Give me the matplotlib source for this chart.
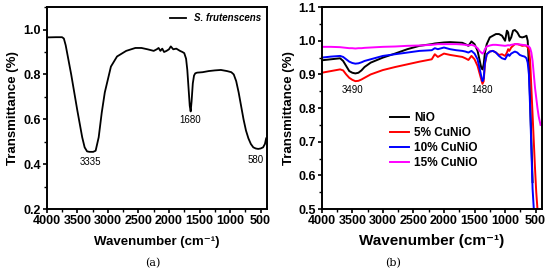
import numpy as np
import matplotlib.pyplot as plt
from matplotlib.ticker import MultipleLocator

plt.rcParams['font.family'] = ['Liberation Sans', 'DejaVu Sans']
plt.rcParams['font.weight'] = 'bold'

# (a) S. frutenscens spectrum
wn_a = [4000, 3850, 3750, 3720, 3690, 3600, 3500, 3420, 3380, 3340, 3300, 3240, 3200, 3150,
        3100, 3050, 2950, 2850, 2700, 2550, 2450, 2350, 2250, 2200, 2170, 2140, 2110, 2080,
        2040, 2000, 1970, 1930, 1880, 1820, 1780, 1750, 1720, 1700, 1680, 1660, 1645, 1630,
        1610, 1590, 1570, 1540, 1450, 1350, 1250, 1150, 1050, 980, 940, 900, 860, 820, 780,
        740, 700, 660, 620, 580, 540, 500, 460, 430, 410]
tr_a = [0.965, 0.966, 0.966, 0.96, 0.93, 0.80, 0.64, 0.52, 0.475, 0.457, 0.455, 0.455, 0.46, 0.52,
        0.63, 0.72, 0.835, 0.88, 0.905, 0.918, 0.918, 0.912, 0.905, 0.912, 0.918, 0.905, 0.915, 0.90,
        0.905, 0.912, 0.925, 0.912, 0.915, 0.905, 0.90, 0.895, 0.87, 0.82, 0.74, 0.66, 0.635, 0.68,
        0.76, 0.795, 0.805, 0.808, 0.81, 0.815, 0.818, 0.82, 0.815, 0.81, 0.80, 0.77, 0.72, 0.66, 0.60,
        0.55, 0.515, 0.49, 0.475, 0.47, 0.468, 0.47, 0.475, 0.49, 0.515]

# (b) NiO / CuNiO spectra
wn_b = [4000, 3850, 3700, 3650, 3600, 3550, 3500, 3450, 3400, 3350, 3300, 3200, 3000, 2800,
        2600, 2400, 2200, 2150, 2100, 2000, 1900, 1800, 1700, 1650, 1600, 1550, 1500, 1450,
        1420, 1390, 1370, 1350, 1330, 1300, 1250, 1200, 1150, 1100, 1050, 1000, 970, 950,
        930, 900, 870, 840, 800, 760, 720, 680, 650, 630, 610, 590, 570, 550, 530, 510, 490,
        470, 450, 420]
nio = [0.942, 0.945, 0.948, 0.94, 0.925, 0.91, 0.905, 0.903, 0.905, 0.912, 0.922, 0.935, 0.95, 0.962,
       0.975, 0.985, 0.99, 0.992, 0.993, 0.995, 0.996, 0.995, 0.994, 0.99, 0.985, 0.998, 0.99, 0.97,
       0.945, 0.92, 0.915, 0.93, 0.965, 0.99, 1.01, 1.015, 1.02, 1.02, 1.015, 1.0, 1.03, 1.025,
       1.0, 1.01, 1.03, 1.032, 1.025, 1.012, 1.01, 1.012, 1.015, 1.0, 0.93, 0.82, 0.70, 0.58, np.nan, np.nan, np.nan,
       np.nan, np.nan, np.nan]
cu5 = [0.905, 0.91, 0.915, 0.912, 0.9, 0.89, 0.884, 0.88, 0.881, 0.885, 0.89, 0.90, 0.913, 0.922,
       0.93, 0.938, 0.945, 0.96, 0.952, 0.962, 0.958, 0.955, 0.952, 0.948, 0.943, 0.955, 0.945, 0.925,
       0.905, 0.885, 0.872, 0.88, 0.93, 0.96, 0.968, 0.97, 0.965, 0.958, 0.96, 0.955, 0.965, 0.975,
       0.97, 0.98, 0.985, 0.99, 0.99, 0.988, 0.985, 0.986, 0.985, 0.98, 0.975, 0.94, 0.86, 0.78, 0.70, 0.62, 0.55,
       0.50, np.nan, np.nan]
cu10 = [0.95, 0.953, 0.955, 0.952, 0.945, 0.938, 0.934, 0.932, 0.933, 0.936, 0.94, 0.945, 0.955, 0.96,
        0.965, 0.97, 0.972, 0.978, 0.975, 0.98, 0.975, 0.972, 0.97, 0.968, 0.965, 0.97, 0.962, 0.945,
        0.92, 0.895, 0.88, 0.888, 0.935, 0.96, 0.968, 0.97, 0.965, 0.955, 0.948, 0.945, 0.955, 0.96,
        0.955, 0.962, 0.965, 0.968, 0.965, 0.958, 0.955, 0.953, 0.948, 0.935, 0.90, 0.80, 0.68, 0.56, 0.50,
        np.nan, np.nan, np.nan, np.nan, np.nan]
cu15 = [0.982, 0.982, 0.981, 0.98, 0.979, 0.978, 0.978, 0.977, 0.978, 0.978, 0.979, 0.98, 0.982, 0.983,
        0.985, 0.986, 0.988, 0.989, 0.99, 0.99, 0.99, 0.99, 0.989, 0.988, 0.986, 0.988, 0.985, 0.978,
        0.97, 0.965, 0.962, 0.966, 0.975, 0.983, 0.986, 0.988, 0.988, 0.987, 0.986, 0.985, 0.986, 0.987,
        0.986, 0.988, 0.989, 0.99, 0.99, 0.989, 0.988, 0.987, 0.986, 0.985, 0.983, 0.978, 0.965, 0.94, 0.90, 0.86,
        0.83, 0.80, 0.775, 0.75]

fig = plt.figure(figsize=(5.5, 2.74), dpi=100)


def style(ax, size):
    for s in ax.spines.values():
        s.set_linewidth(1.4)
    ax.set_xlim(4000, 400)
    ax.set_xticks([4000, 3500, 3000, 2500, 2000, 1500, 1000, 500])
    ax.xaxis.set_minor_locator(MultipleLocator(250))
    ax.tick_params(which='major', direction='out', length=3, width=1.2, labelsize=size, pad=1)
    ax.tick_params(which='minor', direction='out', length=2, width=1)
    for lab in ax.get_xticklabels() + ax.get_yticklabels():
        lab.set_fontweight('bold')


ax1 = fig.add_axes([0.085, 0.237, 0.4, 0.737])
ax1.plot(wn_a, tr_a, color='black', lw=1.3, label='S. frutenscens')
ax1.set_ylim(0.2, 1.1)
ax1.set_yticks([0.2, 0.4, 0.6, 0.8, 1.0])
ax1.yaxis.set_minor_locator(MultipleLocator(0.1))
style(ax1, 9)
ax1.set_xlabel('Wavenumber (cm⁻¹)', fontsize=9.5, fontweight='bold', labelpad=7)
ax1.set_ylabel('Transmittance (%)', fontsize=9.5, fontweight='bold', labelpad=3)
ax1.legend(loc='upper right', frameon=False, handlelength=1.6, borderaxespad=0.2,
           prop={'style': 'italic', 'weight': 'bold', 'size': 7})
ax1.text(3283, 0.409, '3335', ha='center', va='center', fontsize=7, fontweight='normal')
ax1.text(1660, 0.597, '1680', ha='center', va='center', fontsize=7, fontweight='normal')
ax1.text(584, 0.418, '580', ha='center', va='center', fontsize=7, fontweight='normal')
fig.text(0.277, 0.03, '(a)', family='DejaVu Serif', fontsize=8, fontweight='normal', ha='center')

ax2 = fig.add_axes([0.585, 0.237, 0.4, 0.737])
ax2.plot(wn_b, nio, color='black', lw=1.4, label='NiO')
ax2.plot(wn_b, cu5, color='#ff0000', lw=1.4, label='5% CuNiO')
ax2.plot(wn_b, cu10, color='#0000ff', lw=1.4, label='10% CuNiO')
ax2.plot(wn_b, cu15, color='#ff00ff', lw=1.4, label='15% CuNiO')
ax2.set_ylim(0.5, 1.1)
ax2.set_yticks([0.5, 0.6, 0.7, 0.8, 0.9, 1.0, 1.1])
ax2.yaxis.set_minor_locator(MultipleLocator(0.05))
style(ax2, 9)
ax2.set_xlabel('Wavenumber (cm⁻¹)', fontsize=11, fontweight='bold', labelpad=5)
ax2.set_ylabel('Transmittance (%)', fontsize=9.5, fontweight='bold', labelpad=3)
ax2.legend(loc='upper left', bbox_to_anchor=(0.285, 0.51), frameon=False,
           handlelength=1.6, labelspacing=0.25, handletextpad=0.4, borderpad=0,
           prop={'weight': 'bold', 'size': 8.5})
ax2.text(3504, 0.853, '3490', ha='center', va='center', fontsize=7, fontweight='normal')
ax2.text(1377, 0.853, '1480', ha='center', va='center', fontsize=7, fontweight='normal')
fig.text(0.715, 0.03, '(b)', family='DejaVu Serif', fontsize=8, fontweight='normal', ha='center')

fig.savefig('out.png', dpi=100)
